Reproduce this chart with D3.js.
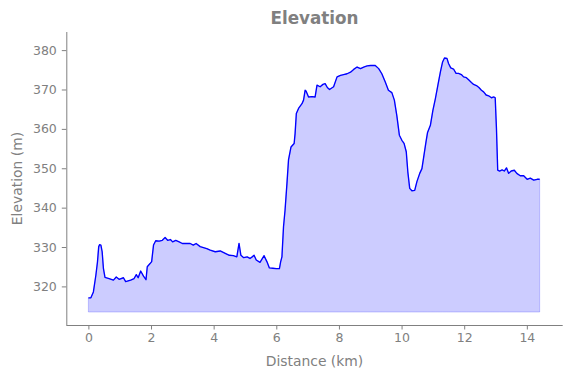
<!DOCTYPE html>
<html>
<head>
<meta charset="utf-8">
<script src="https://cdn.jsdelivr.net/npm/d3@7"></script>
<style>
  body { margin: 0; background: #fff; }
  svg { display: block; font-family: "DejaVu Sans", sans-serif; }
</style>
</head>
<body>
<svg id="chart" width="571" height="378"></svg>
<script>
// Distance (km) and elevation (m)
const distance = [0.00,0.08,0.16,0.24,0.29,0.33,0.36,0.40,0.44,0.48,0.53,0.66,0.80,0.89,0.98,1.12,1.19,1.35,1.46,1.53,1.59,1.67,1.76,1.84,1.88,1.97,2.02,2.08,2.15,2.26,2.36,2.45,2.53,2.62,2.69,2.79,2.90,3.00,3.16,3.25,3.35,3.44,3.57,3.78,3.89,4.05,4.21,4.37,4.50,4.63,4.74,4.81,4.87,4.96,5.07,5.16,5.23,5.29,5.36,5.48,5.61,5.70,5.78,5.89,6.00,6.10,6.14,6.18,6.23,6.28,6.34,6.39,6.47,6.57,6.60,6.64,6.71,6.82,6.87,6.92,6.95,7.03,7.14,7.24,7.30,7.40,7.49,7.56,7.63,7.70,7.83,7.94,8.05,8.15,8.26,8.37,8.47,8.58,8.69,8.79,8.90,9.01,9.16,9.27,9.37,9.48,9.58,9.69,9.77,9.85,9.93,10.01,10.08,10.15,10.20,10.26,10.33,10.42,10.49,10.58,10.65,10.70,10.78,10.83,10.92,11.00,11.08,11.16,11.24,11.31,11.37,11.45,11.50,11.57,11.66,11.74,11.82,11.91,11.98,12.07,12.15,12.23,12.30,12.39,12.47,12.55,12.62,12.70,12.78,12.87,12.95,12.99,13.03,13.07,13.13,13.21,13.28,13.35,13.42,13.50,13.60,13.68,13.79,13.90,14.01,14.11,14.22,14.33,14.41];
const elevation = [317.1,317.1,318.6,322.9,326.2,330.1,330.6,330.5,328.8,324.6,322.3,322.0,321.6,322.4,321.8,322.2,321.2,321.6,322.0,323.0,322.2,323.9,322.6,321.7,325.0,325.8,326.3,330.5,331.6,331.5,331.7,332.4,331.7,331.9,331.3,331.7,331.3,330.9,330.9,330.9,330.5,330.9,330.1,329.6,329.2,328.8,329.0,328.4,327.9,327.8,327.5,330.9,327.9,327.3,327.5,327.1,327.5,327.9,326.7,326.1,327.8,326.3,324.7,324.6,324.5,324.5,326.3,327.5,335.1,339.4,346.1,352.1,355.4,356.3,358.8,363.9,365.2,366.4,367.3,369.8,369.6,368.1,368.2,368.1,371.1,370.7,371.3,371.5,370.5,370.0,370.7,373.2,373.6,373.8,374.0,374.4,375.1,375.7,375.3,375.7,376.0,376.1,376.1,375.3,374.0,371.9,369.8,369.2,367.3,363.3,358.4,357.1,356.3,354.2,349.1,344.9,344.3,344.4,346.6,348.7,349.9,352.5,356.7,359.1,360.9,364.7,367.7,371.1,374.5,377.0,378.0,377.9,376.6,375.5,375.2,374.1,374.1,373.8,373.2,373.0,372.4,371.8,371.3,371.0,370.5,369.8,369.4,368.6,368.4,367.9,368.1,367.9,360.1,349.5,349.3,349.6,349.3,350.1,348.7,349.3,349.5,348.7,348.1,348.1,347.2,347.5,347.0,347.2,347.2];
const fillBase = 313.5;
const xTicks = [0, 2, 4, 6, 8, 10, 12, 14];
const yTicks = [320, 330, 340, 350, 360, 370, 380];
const title = "Elevation";
const xLabel = "Distance (km)";
const yLabel = "Elevation (m)";

const data = distance.map((d, i) => ({ d, e: elevation[i] }));
const svg = d3.select("#chart");
const L = 66.3, R = 562.7, T = 32, B = 325;
const textColor = "#808080";

const x = d3.scaleLinear().domain([-0.705, 15.145]).range([L, R]);
const y = d3.scaleLinear().domain([310.2, 384.6]).range([B, T]);

// Fill
const area = d3.area().x(p => x(p.d)).y0(y(fillBase)).y1(p => y(p.e));
svg.append("path").datum(data)
  .attr("d", area)
  .attr("fill", "rgba(0,0,255,0.2)")
  .attr("stroke", "rgba(0,0,255,0.2)")
  .attr("stroke-width", 1);

// Line
const line = d3.line().x(p => x(p.d)).y(p => y(p.e));
svg.append("path").datum(data)
  .attr("d", line)
  .attr("fill", "none")
  .attr("stroke", "#0000ff")
  .attr("stroke-width", 1.35)
  .attr("stroke-linejoin", "round");

// Axes
const xAxis = d3.axisBottom(x).tickValues(xTicks).tickSize(4.5).tickPadding(4).tickSizeOuter(0);
const gx = svg.append("g").attr("transform", `translate(0,${B})`).call(xAxis);
const yAxis = d3.axisLeft(y).tickValues(yTicks).tickSize(4.5).tickPadding(5).tickSizeOuter(0);
const gy = svg.append("g").attr("transform", `translate(${L},0)`).call(yAxis);
[gx, gy].forEach(g => {
  g.select(".domain").attr("stroke", textColor).attr("stroke-width", 1);
  g.selectAll(".tick line").attr("stroke", textColor).attr("stroke-width", 1);
  g.selectAll(".tick text").attr("fill", textColor)
    .style("font-family", "DejaVu Sans").style("font-size", "12.5px");
});
gx.select(".domain").attr("d", `M${L},0.5H${R}`);
gy.select(".domain").attr("d", `M0.5,${T}V${B}`);

// Title and labels
svg.append("text").attr("x", (L + R) / 2).attr("y", 24)
  .attr("text-anchor", "middle").attr("fill", textColor)
  .style("font-size", "16.8px").style("font-weight", "bold").text(title);
svg.append("text").attr("x", (L + R) / 2).attr("y", 366)
  .attr("text-anchor", "middle").attr("fill", textColor)
  .style("font-size", "13.9px").text(xLabel);
svg.append("text")
  .attr("transform", `translate(22,${(T + B) / 2}) rotate(-90)`)
  .attr("text-anchor", "middle").attr("fill", textColor)
  .style("font-size", "13.9px").text(yLabel);
</script>
</body>
</html>
